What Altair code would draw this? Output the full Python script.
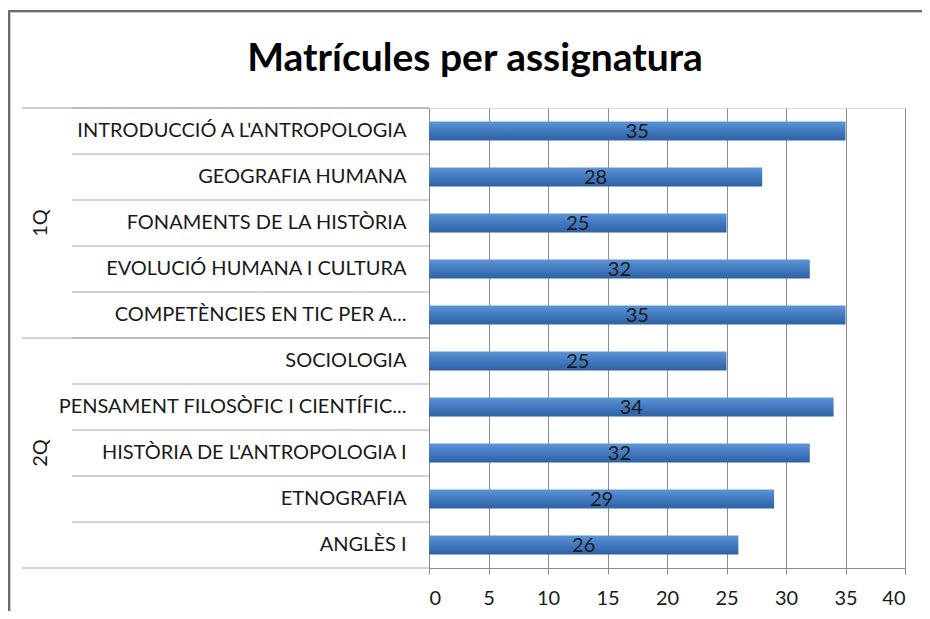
import altair as alt
import pandas as pd

title_text = "Matrícules per assignatura"
subjects = [
    "INTRODUCCIÓ A L'ANTROPOLOGIA",
    "GEOGRAFIA HUMANA",
    "FONAMENTS DE LA HISTÒRIA",
    "EVOLUCIÓ HUMANA I CULTURA",
    "COMPETÈNCIES EN TIC PER A...",
    "SOCIOLOGIA",
    "PENSAMENT FILOSÒFIC I CIENTÍFIC...",
    "HISTÒRIA DE L'ANTROPOLOGIA I",
    "ETNOGRAFIA",
    "ANGLÈS I",
]
enrolments = [35, 28, 25, 32, 35, 25, 34, 32, 29, 26]
semesters = ["1Q"] * 5 + ["2Q"] * 5
x_ticks = [0, 5, 10, 15, 20, 25, 30, 35, 40]

df = pd.DataFrame({"subject": subjects, "value": enrolments, "group": semesters})
df["half"] = df["value"] / 2

first_of_group = df.groupby("group", sort=False).head(1)
last_row = df.tail(1)
mid_of_group = df.groupby("group", sort=False).nth(2)

FONT = "Lato"
GRID = "#8c8c8c"
LINE = "#a6a6a6"
TXT = "#1a1a1a"

yscale = alt.Scale(domain=subjects, paddingInner=0, paddingOuter=0)
xscale = alt.Scale(domain=[0, 40], nice=False)

W, H = 476, 460

base = alt.Chart(df)

bars = base.mark_bar(
    size=19,
    color=alt.LinearGradient(
        gradient="linear",
        x1=0, y1=0, x2=0, y2=1,
        stops=[
            alt.GradientStop(color="#5e95d5", offset=0),
            alt.GradientStop(color="#4279c0", offset=0.5),
            alt.GradientStop(color="#2f62a4", offset=1),
        ],
    ),
).encode(
    y=alt.Y(
        "subject:N",
        sort=subjects,
        scale=yscale,
        axis=alt.Axis(
            title=None,
            labelFont=FONT,
            labelFontSize=20,
            labelColor=TXT,
            labelPadding=23,
            labelLimit=420,
            ticks=False,
            domain=True,
            domainColor=GRID,
            grid=False,
        ),
    ),
    x=alt.X(
        "value:Q",
        scale=xscale,
        axis=alt.Axis(
            title=None,
            values=x_ticks,
            grid=True,
            gridColor=GRID,
            gridOpacity=1,
            domainColor=GRID,
            tickColor=GRID,
            tickSize=6,
            labelFont=FONT,
            labelFontSize=20,
            labelColor=TXT,
            labelPadding=14,
        ),
    ),
)

labels = base.mark_text(
    font=FONT, fontSize=20, color=TXT, baseline="middle", align="center", dy=1
).encode(
    y=alt.Y("subject:N", sort=subjects, scale=yscale),
    x=alt.X("half:Q", scale=xscale),
    text=alt.Text("value:Q"),
)

cat_lines = base.mark_rule(color=LINE, strokeWidth=1).encode(
    y=alt.Y("subject:N", sort=subjects, scale=yscale, bandPosition=0),
    x=alt.value(-357),
    x2=alt.value(0),
)

group_lines = alt.Chart(first_of_group).mark_rule(color=LINE, strokeWidth=1).encode(
    y=alt.Y("subject:N", sort=subjects, scale=yscale, bandPosition=0),
    x=alt.value(-407),
    x2=alt.value(0),
)

bottom_line = alt.Chart(last_row).mark_rule(color=LINE, strokeWidth=1).encode(
    y=alt.Y("subject:N", sort=subjects, scale=yscale, bandPosition=1),
    x=alt.value(-407),
    x2=alt.value(0),
)

group_labels = alt.Chart(mid_of_group).mark_text(
    font=FONT, fontSize=20, color=TXT, angle=270, baseline="middle", align="center"
).encode(
    y=alt.Y("subject:N", sort=subjects, scale=yscale),
    x=alt.value(-388),
    text="group:N",
)

frame_df = pd.DataFrame({"t": [title_text]})
title_mark = alt.Chart(frame_df).mark_text(
    font=FONT, fontSize=39, fontWeight="bold", color="#000000",
    align="center", baseline="alphabetic",
).encode(x=alt.value(46), y=alt.value(-37), text="t:N")

frame_top = alt.Chart(frame_df).mark_rule(color="#6a6a6a", strokeWidth=2).encode(
    x=alt.value(-421), x2=alt.value(540), y=alt.value(-97)
)
frame_top2 = alt.Chart(frame_df).mark_rule(color="#c8c8c8", strokeWidth=1).encode(
    x=alt.value(-419), x2=alt.value(540), y=alt.value(-95.5)
)
frame_left = alt.Chart(frame_df).mark_rule(color="#6a6a6a", strokeWidth=2).encode(
    x=alt.value(-420), y=alt.value(-98), y2=alt.value(540)
)
frame_left2 = alt.Chart(frame_df).mark_rule(color="#c8c8c8", strokeWidth=1).encode(
    x=alt.value(-418.5), y=alt.value(-96), y2=alt.value(540)
)

chart = alt.layer(
    frame_top, frame_top2, frame_left, frame_left2, title_mark,
    cat_lines, group_lines, bottom_line,
    bars, labels, group_labels,
).properties(
    width=W,
    height=H,
    autosize="none",
    padding={"left": 421, "top": 100, "right": 17, "bottom": 43},
).configure_view(stroke=None).configure(background="white")

chart.save("out.html", embed_options={"renderer": "svg", "actions": False})
